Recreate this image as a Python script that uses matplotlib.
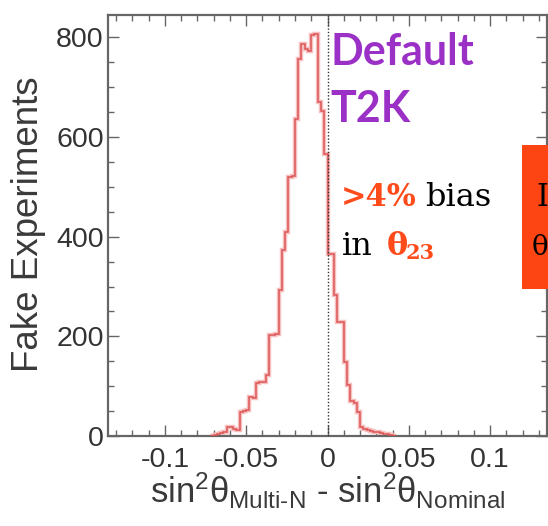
import numpy as np
import matplotlib
matplotlib.use("Agg")
import matplotlib.pyplot as plt
from matplotlib.patches import Rectangle
from matplotlib.ticker import MultipleLocator

# fake-experiment bias histogram, bins of 0.002 starting at -0.072
bin_start = -0.072
bin_width = 0.002
counts = [1, 2, 4, 6, 9, 19, 18, 14, 13, 48, 50, 52, 79, 77, 106, 108, 109,
          122, 202, 202, 204, 294, 373, 409, 520, 522, 637, 757, 787, 776,
          772, 804, 806, 670, 653, 567, 366, 366, 284, 229, 229, 149, 102,
          70, 66, 49, 19, 15, 13, 11, 9, 8, 6, 5, 4, 3, 1]

x_ticks = [-0.1, -0.05, 0, 0.05, 0.1]
x_tick_labels = ["-0.1", "-0.05", "0", "0.05", "0.1"]
y_ticks = [0, 200, 400, 600, 800]

W, H = 548, 526
fig = plt.figure(figsize=(W / 100, H / 100), dpi=100)


def px(x, y):
    return x / W, 1 - y / H


ax = fig.add_axes([108 / W, 1 - 436 / H, 439 / W, 421 / H])
edges = bin_start + bin_width * np.arange(len(counts) + 1)

ax.axhline(0, color="#ec9090", lw=1.4, zorder=2)
ax.stairs(counts, edges, color="#f7c0c0", lw=3.2, zorder=2)
ax.stairs(counts, edges, color="#dc5555", lw=1.1, zorder=3)
ax.axvline(0, color="#333333", lw=1.0, ls=(0, (1, 1.4)), zorder=4)

ax.set_xlim(-0.135, 0.135)
ax.set_ylim(0, 845)
ax.set_xticks(x_ticks)
ax.set_xticklabels(x_tick_labels)
ax.set_yticks(y_ticks)
ax.xaxis.set_minor_locator(MultipleLocator(0.01))
ax.yaxis.set_minor_locator(MultipleLocator(50))

for lab in ax.get_xticklabels() + ax.get_yticklabels():
    lab.set_fontfamily("Liberation Sans")
    lab.set_fontsize(20.5)
    lab.set_color("#333333")

ax.tick_params(which="both", direction="in", top=True, right=True,
               color="#666666", width=1.0)
ax.tick_params(which="major", length=8)
ax.tick_params(which="minor", length=4.5)
ax.tick_params(axis="x", pad=8)
ax.tick_params(axis="y", pad=3)
for sp in ax.spines.values():
    sp.set_color("#666666")
    sp.set_linewidth(1.6)

# axis titles
fig.text(*px(29, 224), "Fake Experiments", rotation=90, ha="center",
         va="center", fontsize=26.5, family="Liberation Sans", color="#3a3a3a")
plt.rcParams["mathtext.fontset"] = "custom"
plt.rcParams["mathtext.rm"] = "Liberation Sans"
plt.rcParams["mathtext.it"] = "Liberation Sans"
fig.text(*px(328, 503),
         r"sin$^{2}\theta_{\mathrm{Multi\text{-}N}}$ - sin$^{2}\theta_{\mathrm{Nominal}}$",
         ha="center", va="baseline", fontsize=25, family="Liberation Sans",
         color="#3a3a3a")

# annotations
purple = "#9a30c6"
orange = "#ff4a1a"
fig.text(*px(330, 65), "Default", fontsize=31, fontweight="bold", family="Lato",
         color=purple, va="baseline")
fig.text(*px(330, 122), "T2K", fontsize=31, fontweight="bold", family="Lato",
         color=purple, va="baseline")

fig.text(*px(341, 206), ">4%", fontsize=22, fontweight="bold",
         family="DejaVu Serif", color=orange, va="baseline")
fig.text(*px(425, 206), "bias", fontsize=23, family="DejaVu Serif",
         color="black", va="baseline")
fig.text(*px(342, 255), "in", fontsize=23, family="DejaVu Serif",
         color="black", va="baseline")
fig.text(*px(387, 255), "θ", fontsize=23, fontweight="bold",
         family="DejaVu Serif", color=orange, va="baseline")
fig.text(*px(406, 259), "23", fontsize=15, fontweight="bold",
         family="DejaVu Serif", color=orange, va="baseline")

# side box
fig.patches.append(Rectangle(px(522, 289), 30 / W, 144 / H,
                             transform=fig.transFigure, facecolor="#fd4514",
                             edgecolor="none", zorder=5))
fig.text(*px(536, 206), "I", fontsize=22, family="DejaVu Serif",
         color="black", va="baseline", zorder=6)
fig.text(*px(532, 255), "θ", fontsize=20, family="DejaVu Serif",
         color="black", va="baseline", zorder=6)

fig.savefig("out.png", dpi=100)
